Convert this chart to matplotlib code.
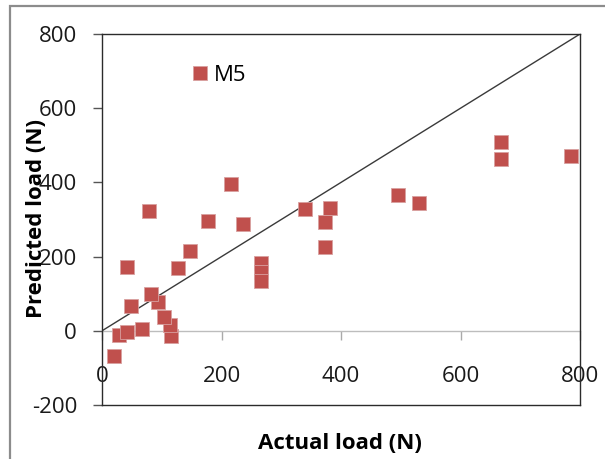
import matplotlib.pyplot as plt
from matplotlib.patches import Rectangle

plt.rcParams['font.family'] = ['Open Sans', 'DejaVu Sans']

# Actual vs predicted load for model M5
actual_load = [20, 28, 41, 67, 116, 113, 103, 93, 82, 48, 41, 128, 148,
               79, 216, 178, 236, 266, 266, 266, 339, 381, 373, 373,
               495, 530, 667, 667, 785]
predicted_load = [-68, -12, -2, 5, -15, 15, 37, 79, 100, 66, 171, 169, 216,
                  322, 396, 297, 289, 183, 159, 135, 328, 331, 293, 226,
                  366, 344, 509, 464, 471]
ref_line = [0, 800]
x_ticks = [0, 200, 400, 600, 800]
y_ticks = [-200, 0, 200, 400, 600, 800]

fig = plt.figure(figsize=(6.05, 4.59), dpi=100)
# outer chart border
fig.patches.append(Rectangle((0.0165, -0.2), 1.3, 0.987 + 0.2, transform=fig.transFigure,
                             fill=False, edgecolor='#8c8c8c', linewidth=1.6))

ax = fig.add_axes([0.1686, 0.1176, 0.7901, 0.8083])
ax.set_xlim(0, 800)
ax.set_ylim(-200, 800)

ax.plot(ref_line, ref_line, color='#3a3a3a', linewidth=1.0, zorder=2)
ax.plot(actual_load, predicted_load, linestyle='none', marker='s', markersize=10,
        markerfacecolor='#C0504D', markeredgecolor='#D8A0A0', markeredgewidth=0.6,
        label='M5', zorder=3)

for side in ['left', 'right', 'top', 'bottom']:
    ax.spines[side].set_color('#2b2b2b')
    ax.spines[side].set_linewidth(1.0)

ax.set_yticks(y_ticks)
ax.set_yticklabels([str(v) for v in y_ticks])
ax.tick_params(axis='y', direction='out', length=6.5, width=1.0, color='#555555',
               labelsize=16, pad=11.5, labelcolor='#1a1a1a')
ax.set_xticks([])

# horizontal axis crossing at zero
zero_axis = ax.secondary_xaxis(0.2)
zero_axis.spines['bottom'].set_color('#bdbdbd')
zero_axis.spines['bottom'].set_linewidth(1.0)
zero_axis.set_xticks(x_ticks)
zero_axis.set_xticklabels([str(v) for v in x_ticks])
zero_axis.tick_params(axis='x', direction='out', length=6.5, width=1.0, color='#aaaaaa',
                      labelsize=16, pad=19, labelcolor='#1a1a1a')

ax.set_xlabel('Actual load (N)', fontsize=16, fontweight='bold', labelpad=0)
ax.xaxis.set_label_coords(0.498, -0.0755)
ax.set_ylabel('Predicted load (N)', fontsize=16, fontweight='bold')
ax.yaxis.set_label_coords(-0.115, 0.504)

ax.legend(loc='center left', bbox_to_anchor=(0.188, 0.888), frameon=False,
          fontsize=16, handlelength=0.7, handletextpad=0.3, borderpad=0,
          borderaxespad=0, markerscale=1.0)

fig.savefig('out.png', dpi=100)
